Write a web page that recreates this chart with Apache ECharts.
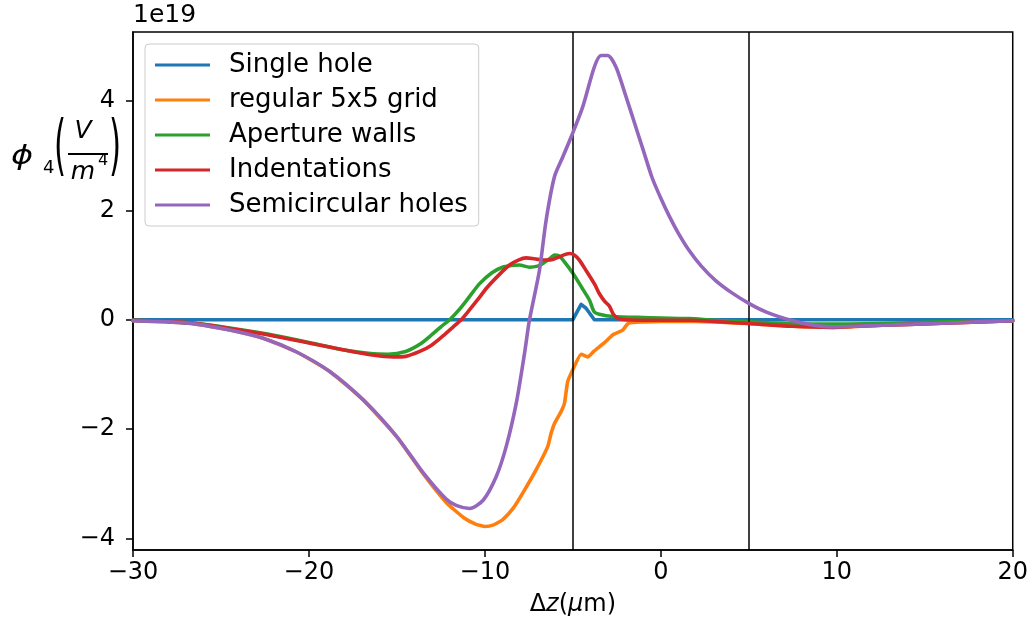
<!DOCTYPE html>
<html>
<head>
<meta charset="utf-8">
<script src="https://cdn.jsdelivr.net/npm/echarts@6/dist/echarts.min.js"></script>
<style>html,body{margin:0;padding:0;background:#fff;}#c{width:1031px;height:624px;}</style>
</head>
<body>
<div id="c"></div>
<script>
// ---- data (values in units of 1e19 V/m^4) ----
var seriesNames = ['Single hole', 'regular 5x5 grid', 'Aperture walls', 'Indentations', 'Semicircular holes'];
var xTicks = [-30, -20, -10, 0, 10, 20];
var yTicks = [-4, -2, 0, 2, 4];
var vlines = [-5, 5];

var singleX = [-30, -5, -4.9, -4.53, -4.25, -3.78, 20];
var singleY = [0, 0, 0, 0.28, 0.21, 0, 0];

var gridX = [-30, -28, -26.4, -24.5, -22.6, -20.7, -18.8, -16.9, -15.0, -13.5, -12.2, -11.2, -10.5, -10.0, -9.5, -9.0, -8.4, -7.85, -7.1, -6.43, -6.24, -6.05, -5.67, -5.48, -5.3, -5.01, -4.53, -4.16, -3.78, -3.2, -2.74, -2.17, -1.83, -1.0, 0, 2, 5, 7.5, 9.7, 12.6, 16.4, 20];
var gridY = [-0.02, -0.04, -0.08, -0.19, -0.34, -0.59, -0.95, -1.47, -2.14, -2.82, -3.34, -3.62, -3.74, -3.78, -3.75, -3.66, -3.45, -3.17, -2.75, -2.32, -2.08, -1.90, -1.68, -1.53, -1.14, -0.92, -0.63, -0.68, -0.57, -0.42, -0.28, -0.19, -0.06, -0.04, -0.03, -0.03, -0.07, -0.12, -0.14, -0.10, -0.06, -0.02];

var wallsX = [-30, -28, -26.4, -24.5, -22.6, -21, -19.8, -17.9, -16.5, -15.5, -14.5, -13.7, -13.0, -12.5, -12.0, -11.5, -11.0, -10.3, -9.6, -9.0, -8.5, -8.04, -7.47, -7.0, -6.7, -6.3, -6.05, -5.8, -5.58, -5.0, -4.44, -4.06, -3.78, -3.5, -2.74, -1.0, 1.6, 3, 5, 8.8, 12.6, 16, 20];
var wallsY = [-0.01, -0.03, -0.07, -0.15, -0.25, -0.35, -0.43, -0.56, -0.62, -0.63, -0.58, -0.45, -0.27, -0.13, 0, 0.17, 0.37, 0.66, 0.86, 0.96, 0.99, 1.0, 0.96, 0.98, 1.03, 1.12, 1.18, 1.17, 1.10, 0.85, 0.56, 0.36, 0.14, 0.10, 0.06, 0.04, 0.02, -0.01, -0.04, -0.08, -0.07, -0.04, -0.02];

var indentX = [-30, -28, -26.4, -24.5, -22.6, -21, -19.8, -17.9, -16.5, -15.2, -14.5, -13.7, -13.1, -12.4, -11.8, -11.35, -10.9, -10.4, -9.9, -9.2, -8.6, -8.1, -7.66, -7.3, -6.9, -6.5, -6.15, -5.7, -5.2, -4.9, -4.63, -4.25, -3.75, -3.5, -3.2, -2.93, -2.7, -2.46, -2.0, 0, 1.6, 3, 5, 7.47, 9.7, 11, 12.6, 16.4, 20];
var indentY = [-0.01, -0.03, -0.07, -0.16, -0.26, -0.36, -0.44, -0.56, -0.64, -0.68, -0.67, -0.58, -0.48, -0.30, -0.13, 0, 0.17, 0.37, 0.58, 0.82, 1.0, 1.09, 1.13, 1.12, 1.10, 1.09, 1.10, 1.16, 1.21, 1.18, 1.09, 0.90, 0.64, 0.48, 0.34, 0.25, 0.10, 0.03, 0.0, -0.01, -0.01, -0.03, -0.07, -0.12, -0.14, -0.12, -0.10, -0.06, -0.02];

var semiX = [-30, -28, -26.4, -24.5, -22.6, -20.7, -18.8, -16.9, -15.0, -13.5, -12.2, -11.6, -10.87, -10.1, -9.36, -8.79, -8.22, -7.75, -7.47, -6.9, -6.52, -6.05, -5.58, -5.1, -4.44, -3.78, -3.4, -3.02, -2.55, -2.0, -1.5, -1.0, -0.5, 0, 0.5, 1.0, 1.6, 2.3, 3.1, 4.0, 5.0, 6.0, 7.4, 8.5, 9.7, 11, 12.6, 14.5, 16.4, 18, 20];
var semiY = [-0.02, -0.04, -0.08, -0.19, -0.34, -0.59, -0.95, -1.47, -2.14, -2.80, -3.28, -3.40, -3.45, -3.30, -2.87, -2.32, -1.53, -0.62, -0.01, 0.9, 1.82, 2.61, 2.97, 3.34, 3.89, 4.62, 4.83, 4.83, 4.62, 4.1, 3.6, 3.1, 2.6, 2.22, 1.88, 1.58, 1.27, 0.98, 0.72, 0.5, 0.30, 0.14, -0.01, -0.09, -0.13, -0.12, -0.10, -0.08, -0.06, -0.04, -0.02];

var colors = ['#1f77b4', '#ff7f0e', '#2ca02c', '#d62728', '#9467bd'];
var allX = [singleX, gridX, wallsX, indentX, semiX];
var allY = [singleY, gridY, wallsY, indentY, semiY];
var smoothing = [0, 0.15, 0.25, 0.25, 0.25];

function pairs(xs, ys) { return xs.map(function (x, i) { return [x, ys[i]]; }); }
function fmt(v) { return v < 0 ? '\u2212' + Math.abs(v) : String(v); }

var FONT = 'DejaVu Sans';
var series = seriesNames.map(function (n, i) {
  var s = {
    name: n, type: 'line', data: pairs(allX[i], allY[i]),
    showSymbol: false, symbol: 'none', smooth: smoothing[i],
    lineStyle: { color: colors[i], width: 3.6, cap: 'round', join: 'round' }, itemStyle: { color: colors[i] },
    z: 2 + i
  };
  if (i === 0) {
    s.markLine = {
      silent: true, symbol: ['none', 'none'], label: { show: false },
      lineStyle: { color: '#000', width: 1.5, type: 'solid' },
      data: vlines.map(function (v) { return { xAxis: v }; })
    };
  }
  return s;
});

var chart = echarts.init(document.getElementById('c'), null, { renderer: 'canvas' });
chart.setOption({
  animation: false,
  backgroundColor: '#fff',
  color: colors,
  grid: { left: 133, right: 17, top: 32, bottom: 74, show: true, borderColor: '#000', borderWidth: 1.5, containLabel: false },
  legend: {
    orient: 'vertical', left: 145, top: 44,
    data: seriesNames.map(function (n) { return { name: n, icon: 'rect' }; }),
    itemWidth: 55, itemHeight: 3, itemGap: 9,
    padding: [8, 11, 8, 10],
    backgroundColor: '#fff', borderColor: '#cccccc', borderWidth: 1, borderRadius: 4,
    textStyle: { fontFamily: FONT, fontSize: 26, color: '#000', lineHeight: 26, padding: [0, 0, 0, 14] }
  },
  xAxis: {
    type: 'value', min: -30, max: 20, interval: 10,
    axisLine: { show: true, onZero: false, lineStyle: { color: '#000', width: 1.5 } },
    axisTick: { show: true, inside: false, length: 7, lineStyle: { color: '#000', width: 1.5 } },
    splitLine: { show: false },
    axisLabel: { fontFamily: FONT, fontSize: 24, color: '#000', margin: 11, formatter: fmt,
      customValues: xTicks },
    name: '{n|\u0394}{i|z}{n|(}{i|\u03bc}{n|m)}',
    nameLocation: 'middle', nameGap: 43,
    nameTextStyle: { rich: { n: { fontFamily: FONT, fontSize: 24, color: '#000' }, i: { fontFamily: FONT, fontSize: 24, fontStyle: 'italic', color: '#000' } } }
  },
  yAxis: {
    type: 'value', min: -4.21, max: 5.26,
    axisLine: { show: true, onZero: false, lineStyle: { color: '#000', width: 1.5 } },
    axisTick: { show: true, inside: false, length: 7, lineStyle: { color: '#000', width: 1.5 }, customValues: yTicks },
    splitLine: { show: false },
    axisLabel: { fontFamily: FONT, fontSize: 24, color: '#000', margin: 18, formatter: fmt, customValues: yTicks }
  },
  graphic: [
    { type: 'text', left: 133, top: 3, style: { text: '1e19', font: '25px "DejaVu Sans"', fill: '#000' } },
    { type: 'text', x: 11, y: 157, scaleX: 1.25, originX: 0, originY: 0, style: { text: '\u03d5', font: 'italic 27px "DejaVu Sans"', fill: '#000', verticalAlign: 'middle' } },
    { type: 'text', x: 43, y: 168, style: { text: '4', font: '18px "DejaVu Sans"', fill: '#000', verticalAlign: 'middle' } },
    { type: 'text', x: 54, y: 150, scaleY: 2.1, originX: 0, originY: 0, style: { text: '(', font: '31px "DejaVu Sans"', fill: '#000', verticalAlign: 'middle' } },
    { type: 'text', x: 83, y: 131, style: { text: 'V', font: 'italic 25px "DejaVu Sans"', fill: '#000', verticalAlign: 'middle', align: 'center' } },
    { type: 'line', shape: { x1: 68, y1: 154, x2: 108, y2: 154 }, style: { stroke: '#000', lineWidth: 2 } },
    { type: 'text', x: 83, y: 172, style: { text: 'm', font: 'italic 25px "DejaVu Sans"', fill: '#000', verticalAlign: 'middle', align: 'center' } },
    { type: 'text', x: 98, y: 161, style: { text: '4', font: '16px "DejaVu Sans"', fill: '#000', verticalAlign: 'middle' } },
    { type: 'text', x: 109, y: 150, scaleY: 2.1, originX: 0, originY: 0, style: { text: ')', font: '31px "DejaVu Sans"', fill: '#000', verticalAlign: 'middle' } }
  ],
  series: series
});
</script>
</body>
</html>
